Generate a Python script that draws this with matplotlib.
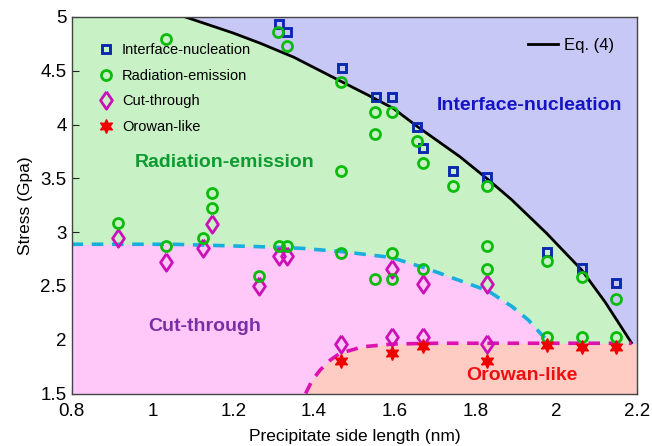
import numpy as np
import matplotlib
matplotlib.use('Agg')
import matplotlib.pyplot as plt

plt.rcParams['font.family'] = ['Liberation Sans', 'DejaVu Sans']

# Pontos simulados
sq_x = [1.313, 1.334, 1.468, 1.552, 1.592, 1.654, 1.670, 1.743, 1.829, 1.975, 2.062, 2.148]
sq_y = [4.934, 4.862, 4.528, 4.253, 4.253, 3.980, 3.779, 3.568, 3.515, 2.812, 2.669, 2.524]

circ_x = [1.033, 1.312, 1.332, 1.467, 1.551, 1.592, 1.551, 1.654, 1.669, 1.467, 1.743, 1.829,
          0.914, 1.033, 1.126, 1.148, 1.147, 1.264, 1.313, 1.334, 1.467, 1.592, 1.551, 1.592,
          1.669, 1.828, 1.828, 1.975, 2.062, 2.148, 1.975, 2.062, 2.148]
circ_y = [4.795, 4.862, 4.730, 4.398, 4.119, 4.119, 3.912, 3.847, 3.639, 3.568, 3.431, 3.431,
          3.082, 2.874, 2.942, 3.221, 3.366, 2.592, 2.874, 2.874, 2.803, 2.803, 2.564, 2.564,
          2.657, 2.871, 2.657, 2.731, 2.585, 2.378, 2.028, 2.028, 2.028]

dia_x = [0.914, 1.033, 1.126, 1.148, 1.264, 1.313, 1.334, 1.592, 1.669, 1.828,
         1.467, 1.592, 1.669, 1.828]
dia_y = [2.942, 2.725, 2.849, 3.075, 2.499, 2.778, 2.778, 2.657, 2.518, 2.518,
         1.957, 2.028, 2.028, 1.957]

star_x = [1.467, 1.592, 1.669, 1.828, 1.975, 2.062, 2.148]
star_y = [1.802, 1.879, 1.944, 1.802, 1.951, 1.935, 1.935]

# Fronteiras entre regimes
eq4_x = [1.081, 1.20, 1.267, 1.35, 1.467, 1.53, 1.596, 1.654, 1.761, 1.83, 1.889, 1.975, 2.062, 2.12, 2.185]
eq4_y = [5.000, 4.850, 4.755, 4.625, 4.400, 4.280, 4.150, 3.985, 3.700, 3.490, 3.300, 2.990, 2.648, 2.350, 1.972]

cut_x = [0.80, 1.05, 1.27, 1.37, 1.47, 1.59, 1.68, 1.76, 1.83, 1.89, 1.93, 1.971]
cut_y = [2.887, 2.887, 2.864, 2.849, 2.818, 2.765, 2.660, 2.550, 2.455, 2.307, 2.183, 2.013]

oro_x = [1.379, 1.395, 1.415, 1.44, 1.464, 1.522, 1.596, 1.70, 2.185]
oro_y = [1.500, 1.620, 1.718, 1.810, 1.874, 1.935, 1.960, 1.967, 1.967]

# losango um pouco mais largo que o 'd' padrão
diamond = [(0, 1), (0.68, 0), (0, -1), (-0.68, 0), (0, 1)]

fig = plt.figure(figsize=(6.52, 4.46), dpi=100)
ax = fig.add_axes([0.1097, 0.1177, 0.868, 0.8444])
ax.set_xlim(0.8, 2.2)
ax.set_ylim(1.5, 5)
ax.set_facecolor('#c8c8f6')

# regiões coloridas
x_green = [0.8] + eq4_x
y_green = [5.0] + eq4_y
ax.fill_between(x_green, 1.5, y_green, color='#c8f2c6', lw=0, zorder=1)
ax.fill_between(cut_x, 1.5, cut_y, color='#ffc8f8', lw=0, zorder=2)
ax.fill_between(oro_x + [2.2], 1.5, oro_y + [1.967], color='#ffccc4', lw=0, zorder=3)

# curvas
eq_line, = ax.plot(eq4_x, eq4_y, color='black', lw=2.0, zorder=4)
ax.plot(cut_x, cut_y, color='#18aede', lw=2.6, ls=(0, (3.2, 2.4)), zorder=4)
ax.plot(oro_x, oro_y, color='#dd10b0', lw=2.6, ls=(0, (3.2, 2.4)), zorder=4)

# marcadores
h_sq, = ax.plot(sq_x, sq_y, 's', ms=6.4, mfc='none', mec='#0a28b0', mew=2.1, zorder=5,
                label='Interface-nucleation')
h_di, = ax.plot(dia_x, dia_y, marker=diamond, ls='none', ms=12.5, mfc='none', mec='#cc10b8',
                mew=2.0, zorder=6, label='Cut-through')
h_ci, = ax.plot(circ_x, circ_y, 'o', ms=7.2, mfc='none', mec='#0cbb0c', mew=2.0, zorder=7,
                label='Radiation-emission')
h_st, = ax.plot(star_x, star_y, marker=(6, 1, 0), ls='none', ms=10, mfc='#ee0000', mec='#ee0000',
                zorder=8, label='Orowan-like')

# rótulos das regiões
ax.text(1.704, 4.181, 'Interface-nucleation', color='#1414c4', fontsize=14,
        fontweight='bold', ha='left', va='center', zorder=9)
ax.text(0.957, 3.646, 'Radiation-emission', color='#0e9a30', fontsize=14,
        fontweight='bold', ha='left', va='center', zorder=9)
ax.text(0.990, 2.127, 'Cut-through', color='#7a2ea6', fontsize=14,
        fontweight='bold', ha='left', va='center', zorder=9)
ax.text(1.777, 1.663, 'Orowan-like', color='#ee1010', fontsize=14,
        fontweight='bold', ha='left', va='center', zorder=9)

leg1 = ax.legend(handles=[h_sq, h_ci, h_di, h_st], loc='upper left',
                 bbox_to_anchor=(0.038, 0.946), borderaxespad=0, frameon=False,
                 fontsize=10.5, handlelength=1.0, handletextpad=0.58, labelspacing=0.8)
ax.add_artist(leg1)
leg2 = ax.legend(handles=[eq_line], labels=['Eq. (4)'], loc='upper right',
                 bbox_to_anchor=(0.97, 0.963), borderaxespad=0, frameon=False,
                 fontsize=12, handlelength=1.8, handletextpad=0.36)

ax.set_xticks([0.8, 1.0, 1.2, 1.4, 1.6, 1.8, 2.0, 2.2])
ax.set_xticklabels(['0.8', '1', '1.2', '1.4', '1.6', '1.8', '2', '2.2'])
ax.set_yticks([1.5, 2, 2.5, 3, 3.5, 4, 4.5, 5])
ax.set_yticklabels(['1.5', '2', '2.5', '3', '3.5', '4', '4.5', '5'])
ax.tick_params(direction='in', length=5, width=0.8, labelsize=13.5, colors='#222222',
               labelcolor='black')
ax.tick_params(axis='x', pad=7)
ax.set_xlabel('Precipitate side length (nm)', fontsize=12.5, labelpad=6)
ax.set_ylabel('Stress (Gpa)', fontsize=12.5, labelpad=5)
for sp in ax.spines.values():
    sp.set_color('#444444')
    sp.set_linewidth(1.0)
    sp.set_zorder(10)

fig.savefig('out.png', dpi=100)
